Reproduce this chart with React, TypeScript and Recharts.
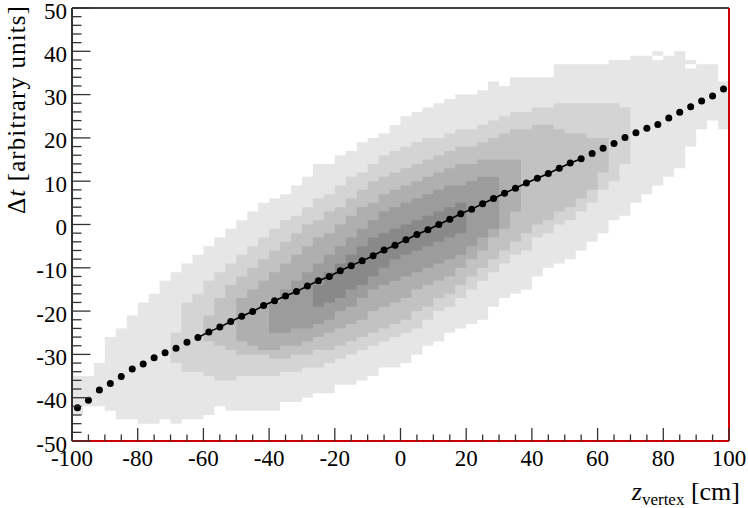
import React from 'react';
import { ComposedChart, Area, Scatter, XAxis, YAxis, ReferenceLine, Label } from 'recharts';

// ---- binning of the 2D histogram (x: 60 bins over [-100, 100], y: 1-unit cells) ----
const X_LOW = -100;
const X_HIGH = 100;
const X_BINS = 60;

// profile (mean Δt per z bin), one value per x bin
const PROFILE = [
  -42.3, -40.6, -38.2, -36.7, -35.1, -33.4, -32.2, -30.8, -29.6, -28.6,
  -27.2, -26.1, -24.8, -23.7, -22.4, -21.2, -20.1, -18.7, -17.6, -16.5,
  -15.5, -14.2, -13.0, -12.0, -10.7, -9.5, -8.4, -7.2, -5.9, -4.8,
  -3.5, -2.3, -1.2, 0.0, 1.2, 2.5, 3.55, 4.8, 6.0, 7.2,
  8.4, 9.6, 10.7, 11.8, 13.0, 14.2, 15.2, 16.4, 17.6, 18.7,
  20.1, 21.2, 22.2, 23.1, 24.6, 25.9, 27.2, 28.5, 29.7, 31.3,
];

// range of bins covered by the drawn fit line
const FIT_FIRST_BIN = 11;
const FIT_LAST_BIN = 46;

// contour levels of the histogram: [low edge, high edge] of the filled cells per x bin
const LEVEL1_FIRST_BIN = 0;
const LEVEL1 = [
  [-44, -35], [-42, -35], [-42, -32], [-43, -26], [-45, -24], [-45, -21], [-46, -18], [-46, -16], [-45, -13], [-46, -11],
  [-45, -9], [-45, -7], [-44, -5], [-42, -3], [-43, -1], [-43, 1], [-43, 3], [-43, 5], [-43, 6], [-41, 7],
  [-41, 9], [-40, 11], [-39, 14], [-39, 14], [-37, 16], [-37, 17], [-36, 19], [-35, 20], [-33, 21], [-33, 23],
  [-32, 25], [-30, 26], [-28, 27], [-27, 28], [-25, 29], [-24, 30], [-23, 30], [-22, 31], [-19, 33], [-17, 32],
  [-16, 34], [-15, 34], [-12, 34], [-10, 34], [-9, 37], [-8, 37], [-6, 37], [-4, 37], [-2, 37], [1, 38],
  [2, 38], [5, 39], [7, 39], [9, 40], [11, 39], [13, 40], [18, 38], [22, 37], [24, 37], [22, 33],
];

const LEVEL2_FIRST_BIN = 9;
const LEVEL2 = [
  [-32, -25], [-34, -18], [-34, -16], [-35, -13], [-36, -11], [-36, -9], [-35, -7], [-35, -5], [-35, -3], [-35, -1],
  [-34, 1], [-34, 2], [-33, 4], [-33, 6], [-32, 7], [-31, 9], [-30, 11], [-29, 12], [-28, 14], [-27, 16],
  [-26, 17], [-25, 18], [-24, 19], [-22, 20], [-20, 20], [-19, 21], [-17, 22], [-15, 22], [-13, 23], [-11, 24],
  [-9, 25], [-7, 26], [-6, 26], [-3, 27], [-2, 27], [0, 28], [1, 28], [3, 28], [5, 28], [8, 28],
  [10, 28], [14, 27],
];

const LEVEL3_FIRST_BIN = 12;
const LEVEL3 = [
  [-27, -21], [-28, -17], [-29, -14], [-30, -12], [-30, -10], [-30, -8], [-31, -6], [-31, -4], [-30, -2], [-30, 0],
  [-29, 1], [-29, 3], [-28, 4], [-27, 6], [-26, 8], [-25, 10], [-24, 11], [-23, 12], [-22, 13], [-20, 14],
  [-19, 15], [-17, 16], [-16, 17], [-14, 18], [-12, 18], [-10, 19], [-8, 20], [-6, 21], [-4, 22], [-2, 22],
  [0, 23], [1, 23], [3, 22], [4, 21], [6, 21], [8, 20], [12, 20],
];

const LEVEL4_FIRST_BIN = 15;
const LEVEL4 = [
  [-27, -17], [-28, -15], [-29, -13], [-29, -11], [-28, -9], [-28, -7], [-27, -5], [-26, -3], [-25, -2], [-24, 0],
  [-23, 2], [-22, 4], [-20, 5], [-19, 7], [-18, 8], [-17, 9], [-15, 10], [-14, 11], [-13, 12], [-12, 13],
  [-10, 14], [-8, 14], [-6, 15], [-3, 15], [-1, 15], [3, 15],
];

const LEVEL5_FIRST_BIN = 18;
const LEVEL5 = [
  [-25, -18], [-25, -15], [-24, -13], [-24, -11], [-23, -9], [-22, -7], [-20, -5], [-19, -3], [-17, -1], [-15, 1],
  [-14, 3], [-13, 4], [-12, 5], [-11, 6], [-10, 7], [-9, 8], [-8, 9], [-7, 9], [-5, 10], [-3, 11],
  [-1, 11],
];

const LEVEL6_FIRST_BIN = 22;
const LEVEL6 = [
  [-19, -14], [-18, -11], [-17, -9], [-15, -7], [-14, -5], [-12, -3], [-10, -2], [-8, -1], [-7, 0], [-6, 1],
  [-5, 2], [-4, 3], [-3, 4], [-2, 5],
];

// empty cells inside the outer level: [x bin, low edge, high edge]
const EMPTY_CELLS = [
  [53, 38, 39],
  [56, 36, 37],
];

const LEVEL_COLORS = ['#e6e6e6', '#d4d4d4', '#c2c2c2', '#afafaf', '#9c9c9c', '#898989'];

const X_TICKS = [
  -100, -95, -90, -85, -80, -75, -70, -65, -60, -55, -50, -45, -40, -35, -30, -25, -20, -15, -10, -5,
  0, 5, 10, 15, 20, 25, 30, 35, 40, 45, 50, 55, 60, 65, 70, 75, 80, 85, 90, 95, 100,
];
const Y_TICKS = [
  -50, -48, -46, -44, -42, -40, -38, -36, -34, -32, -30, -28, -26, -24, -22, -20, -18, -16, -14, -12,
  -10, -8, -6, -4, -2, 0, 2, 4, 6, 8, 10, 12, 14, 16, 18, 20, 22, 24, 26, 28,
  30, 32, 34, 36, 38, 40, 42, 44, 46, 48, 50,
];

// ---- build tables for the library ----
const LEVELS: { first: number; cells: number[][] }[] = [
  { first: LEVEL1_FIRST_BIN, cells: LEVEL1 },
  { first: LEVEL2_FIRST_BIN, cells: LEVEL2 },
  { first: LEVEL3_FIRST_BIN, cells: LEVEL3 },
  { first: LEVEL4_FIRST_BIN, cells: LEVEL4 },
  { first: LEVEL5_FIRST_BIN, cells: LEVEL5 },
  { first: LEVEL6_FIRST_BIN, cells: LEVEL6 },
];

const BIN_WIDTH = (X_HIGH - X_LOW) / X_BINS;

const histRows: any[] = [];
for (let k = 0; k < X_BINS; k++) {
  const left = X_LOW + k * BIN_WIDTH;
  const right = left + BIN_WIDTH;
  const hole = EMPTY_CELLS.find((e) => e[0] === k);
  const make = (x: number) => {
    const row: any = { x };
    LEVELS.forEach((lv, i) => {
      const c = lv.cells[k - lv.first];
      row['l' + (i + 1)] = c ? [c[0], c[1]] : null;
    });
    row.empty = hole ? [hole[1], hole[2]] : null;
    return row;
  };
  histRows.push(make(left), make(right));
}

const profilePoints = PROFILE.map((y, k) => ({ x: X_LOW + (k + 0.5) * BIN_WIDTH, y }));
const fitPoints = profilePoints.slice(FIT_FIRST_BIN, FIT_LAST_BIN + 1);

const FONT = 'Liberation Serif';

const XTick = (props: any) => {
  const { x, y, payload } = props;
  const v = payload.value;
  const major = v % 20 === 0;
  return (
    <g>
      <line x1={x} y1={y} x2={x} y2={y - (major ? 13 : 6.5)} stroke="#333" strokeWidth={1.3} />
      {major && (
        <text x={x} y={y + 25} textAnchor="middle" fontFamily={FONT} fontSize={23} fill="#000">
          {v}
        </text>
      )}
    </g>
  );
};

const YTick = (props: any) => {
  const { x, y, payload } = props;
  const v = payload.value;
  const major = v % 10 === 0;
  return (
    <g>
      <line x1={x} y1={y} x2={x + (major ? 18.5 : 9.5)} y2={y} stroke="#333" strokeWidth={1.3} />
      {major && (
        <text x={x - 5} y={y + 10.5} textAnchor="end" fontFamily={FONT} fontSize={23} fill="#000">
          {v}
        </text>
      )}
    </g>
  );
};

const XTitle = () => (
  <text x={740} y={500} textAnchor="end" fontFamily={FONT} fontSize={26} fill="#000">
    <tspan fontStyle="italic">z</tspan>
    <tspan fontSize={17} dy={5}>vertex</tspan>
    <tspan dy={-5}> [cm]</tspan>
  </text>
);

const YTitle = () => (
  <text
    x={25}
    y={5}
    transform="rotate(-90 25 5)"
    textAnchor="end"
    fontFamily={FONT}
    fontSize={25}
    letterSpacing={1.1}
    fill="#000"
  >
    <tspan>Δ</tspan>
    <tspan fontStyle="italic">t</tspan>
    <tspan> [arbitrary units]</tspan>
  </text>
);

const Dot = (p: any) => <circle cx={p.cx} cy={p.cy} r={3.5} fill="#000" />;
const NoShape = () => <g />;

export default function App() {
  return (
    <div style={{ position: 'absolute', left: 0, top: 0, width: 748, height: 508, background: '#fff' }}>
      <ComposedChart
        width={748}
        height={508}
        data={histRows}
        margin={{ top: 8, right: 19, bottom: 0, left: 0 }}
      >
        <XAxis
          type="number"
          dataKey="x"
          domain={[X_LOW, X_HIGH]}
          ticks={X_TICKS}
          interval={0}
          tickSize={0}
          tickMargin={0}
          tick={XTick}
          height={67}
          allowDataOverflow
          axisLine={{ stroke: '#cc0000', strokeWidth: 2 }}
        >
          <Label content={XTitle} />
        </XAxis>
        <YAxis
          type="number"
          domain={[-50, 50]}
          ticks={Y_TICKS}
          interval={0}
          tickSize={0}
          tickMargin={0}
          tick={YTick}
          width={72}
          allowDataOverflow
          axisLine={{ stroke: '#333', strokeWidth: 2 }}
        >
          <Label content={YTitle} />
        </YAxis>
        {LEVELS.map((_, i) => (
          <Area
            key={i}
            dataKey={'l' + (i + 1)}
            type="linear"
            stroke="none"
            fill={LEVEL_COLORS[i]}
            fillOpacity={1}
            isAnimationActive={false}
            dot={false}
            activeDot={false}
            connectNulls={false}
          />
        ))}
        <Area
          dataKey="empty"
          type="linear"
          stroke="none"
          fill="#ffffff"
          fillOpacity={1}
          isAnimationActive={false}
          dot={false}
          activeDot={false}
          connectNulls={false}
        />
        <Scatter
          data={fitPoints}
          dataKey="y"
          line={{ stroke: '#000', strokeWidth: 1.6 }}
          shape={NoShape}
          isAnimationActive={false}
        />
        <Scatter data={profilePoints} dataKey="y" shape={Dot} isAnimationActive={false} />
        <ReferenceLine y={50} stroke="#000" strokeWidth={1.5} />
        <ReferenceLine x={100} stroke="#cc0000" strokeWidth={2} />
      </ComposedChart>
    </div>
  );
}
